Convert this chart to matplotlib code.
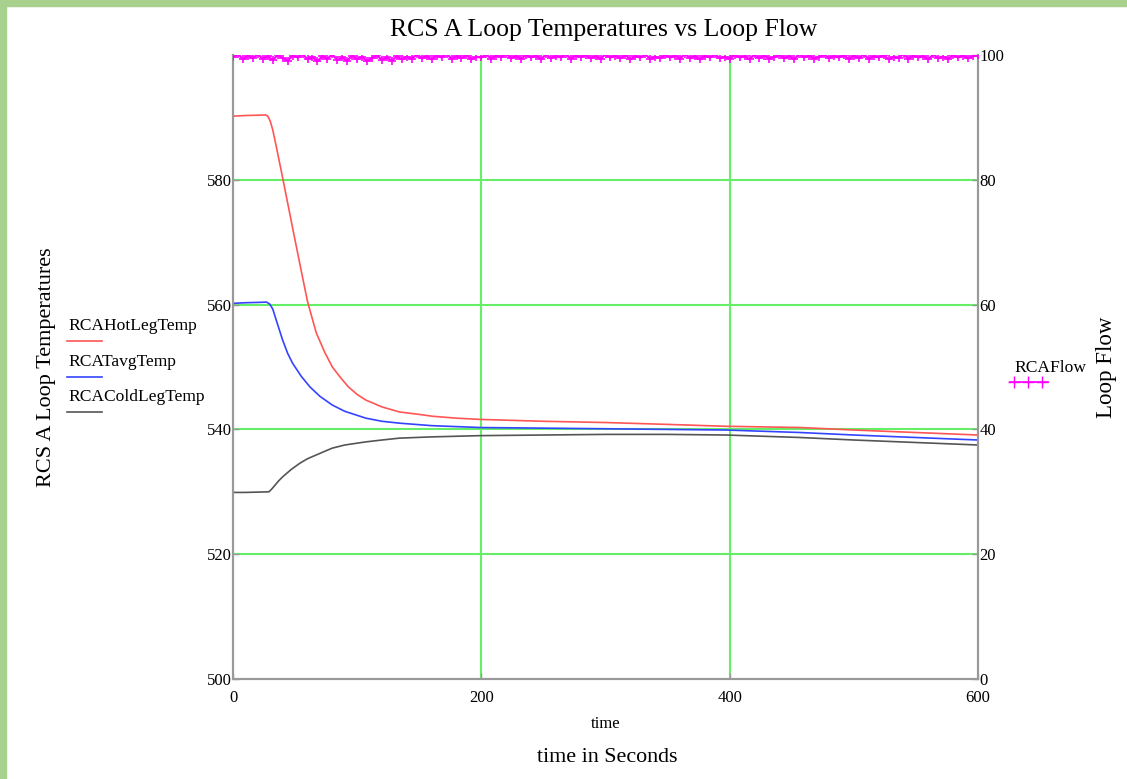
import matplotlib.pyplot as plt
import matplotlib.lines as mlines
import matplotlib.patches as mpatches

plt.rcParams['font.family'] = ['Liberation Serif', 'DejaVu Serif']

# %% data
t_hot = [0, 10, 20, 26, 28, 30, 32, 35, 40, 45, 50, 56, 60, 67, 74, 80, 87, 93, 100,
         107, 120, 134, 150, 161, 180, 199, 250, 300, 350, 397, 457, 500, 550, 600]
hot = [590.2, 590.3, 590.35, 590.4, 590.2, 589.4, 588.0, 585.2, 580.3, 575.3, 570.3, 564.4,
       560.5, 555.5, 552.3, 550.0, 548.2, 546.8, 545.6, 544.7, 543.6, 542.8, 542.4, 542.1,
       541.8, 541.6, 541.3, 541.1, 540.8, 540.5, 540.3, 539.9, 539.5, 539.1]

t_avg = [0, 10, 20, 27, 29.5, 32, 35, 40, 44, 48, 55, 62, 70, 80, 90, 107, 120, 134,
         160, 199, 250, 300, 350, 397, 457, 500, 550, 600]
avg = [560.2, 560.3, 560.35, 560.4, 560.1, 559.3, 557.4, 554.3, 552.2, 550.6, 548.5, 546.8,
       545.3, 543.9, 542.9, 541.8, 541.3, 541.0, 540.6, 540.3, 540.2, 540.1, 540.0, 539.9,
       539.5, 539.1, 538.7, 538.3]

t_cold = [0, 10, 20, 29, 31, 34, 37, 40, 47, 54, 60, 67, 74, 80, 90, 107, 120, 134,
          160, 199, 250, 300, 350, 397, 457, 500, 550, 600]
cold = [529.9, 529.9, 529.95, 530.0, 530.4, 531.1, 531.8, 532.4, 533.6, 534.6, 535.3, 535.9,
        536.5, 537.0, 537.5, 538.0, 538.3, 538.6, 538.8, 539.0, 539.1, 539.2, 539.2, 539.1,
        538.7, 538.3, 537.9, 537.5]

t_flow = list(range(0, 601, 4))
flow = [99.6, 100.2, 99.3, 99.9, 99.5, 100.1, 99.4, 99.8, 99.2, 100.0,
        99.5, 99.1, 99.9, 99.6, 100.2, 99.3, 99.7, 99.0, 99.8, 99.4,
        100.1, 99.2, 99.6, 99.1, 99.9, 99.3, 99.7, 99.0, 99.5, 100.0,
        99.2, 99.6, 99.1, 99.8, 99.3, 99.7, 99.4, 100.1, 99.5, 99.8,
        99.3, 99.9, 99.6, 100.2, 99.4, 99.8, 99.5, 100.0, 99.3, 99.7,
        99.6, 100.1, 99.4, 99.9, 99.7, 100.2, 99.5, 99.8, 99.4, 100.0,
        99.6, 99.9, 99.3, 100.1, 99.5, 99.8, 99.6, 100.2, 99.4, 99.9,
        99.7, 100.0, 99.5, 99.8, 99.4, 100.1, 99.6, 99.9, 99.5, 100.0,
        99.3, 99.8, 99.6, 100.1, 99.4, 99.7, 99.5, 100.0, 99.6, 99.9,
        99.4, 100.2, 99.5, 99.8, 99.3, 99.9, 99.6, 100.1, 99.5, 99.7,
        99.4, 100.0, 99.6, 99.8, 99.3, 100.1, 99.5, 99.9, 99.4, 99.7,
        100.0, 99.5, 99.8, 99.3, 100.2, 99.6, 99.9, 99.4, 99.7, 100.1,
        99.5, 99.8, 99.6, 100.0, 99.3, 99.9, 99.5, 100.1, 99.4, 99.8,
        99.6, 100.0, 99.3, 99.7, 99.5, 100.2, 99.4, 99.9, 99.6, 99.8,
        99.3, 100.1, 99.5, 99.7, 99.4, 100.0, 99.6, 99.9, 99.5, 99.8,
        100.0]

# %%
fig = plt.figure(figsize=(11.27, 7.79), dpi=100, facecolor='white')
fig.add_artist(mpatches.Rectangle((0, 0), 6 / 1127, 1, transform=fig.transFigure,
                                  color='#a9d18e', zorder=0))
fig.add_artist(mpatches.Rectangle((0, 1 - 6 / 779), 1, 6 / 779, transform=fig.transFigure,
                                  color='#a9d18e', zorder=0))

ax = fig.add_axes([233 / 1127, 1 - 679 / 779, 745 / 1127, 624 / 779])
ax2 = ax.twinx()

grid_c = '#66ee66'
for y in [520, 540, 560, 580]:
    ax.axhline(y, color=grid_c, lw=1.5, zorder=1)
for x in [200, 400]:
    ax.axvline(x, color=grid_c, lw=1.5, zorder=1)

ax.plot(t_hot, hot, color='#ff5555', lw=1.2, zorder=3)
ax.plot(t_avg, avg, color='#3344ff', lw=1.2, zorder=3)
ax.plot(t_cold, cold, color='#555555', lw=1.2, zorder=3)
ax2.plot(t_flow, flow, color='#ff00ff', lw=1.6, marker='+', markersize=6,
         markeredgewidth=1.2, zorder=3)

ax.set_xlim(0, 600)
ax.set_ylim(500, 600)
ax2.set_ylim(0, 100)
ax.set_xticks([0, 200, 400, 600])
ax.set_yticks([500, 520, 540, 560, 580])
ax2.set_yticks([0, 20, 40, 60, 80, 100])

for a in (ax, ax2):
    for s in a.spines.values():
        s.set_color('#999999')
        s.set_linewidth(1.5)
    a.spines['top'].set_visible(False)
    a.tick_params(labelsize=12, length=4, width=1, color='#999999', pad=1, direction='in')
ax.tick_params(axis='x', pad=8)

ax.set_xlabel('time', fontsize=12, labelpad=7)
ax.set_ylabel('RCS A Loop Temperatures', fontsize=16, labelpad=0)
ax.yaxis.set_label_coords(-0.237, 0.5)
ax2.set_ylabel('Loop Flow', fontsize=16.5)
ax2.yaxis.set_label_coords(1.159, 0.5)

fig.text(604 / 1127, 1 - 30 / 779, 'RCS A Loop Temperatures vs Loop Flow', fontsize=18.5,
         ha='center', va='center')
fig.text(607 / 1127, 1 - 757 / 779, 'time in Seconds', fontsize=15.8, ha='center', va='center')

# legends, drawn by hand like the original
leg = [('RCAHotLegTemp', '#ff5555', 326), ('RCATavgTemp', '#3344ff', 362),
       ('RCAColdLegTemp', '#555555', 397)]
for name, c, y in leg:
    fig.text(68 / 1127, 1 - y / 779, name, fontsize=12.6, ha='left', va='center')
    fig.add_artist(mlines.Line2D([67 / 1127, 102 / 1127], [1 - (y + 15) / 779] * 2,
                                 color=c, lw=1.2, transform=fig.transFigure))
fig.text(1014 / 1127, 1 - 368 / 779, 'RCAFlow', fontsize=12.6, ha='left', va='center')
fig.add_artist(mlines.Line2D([1010 / 1127, 1048 / 1127], [1 - 382 / 779] * 2,
                             color='#ff00ff', lw=1.2, transform=fig.transFigure))
fig.add_artist(mlines.Line2D([1014 / 1127, 1028 / 1127, 1042 / 1127], [1 - 382 / 779] * 3,
                             color='#ff00ff', lw=0, marker='+', markersize=8,
                             transform=fig.transFigure))

fig.savefig('out.png', dpi=100)
